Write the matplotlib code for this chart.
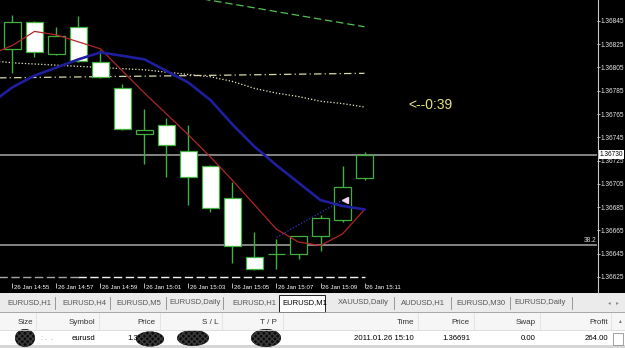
import matplotlib
matplotlib.use("Agg")
import matplotlib.pyplot as plt
import numpy as np
from matplotlib import transforms
from matplotlib.lines import Line2D
from matplotlib.patches import Rectangle, Ellipse

times = ["14:55", "14:56", "14:57", "14:58", "14:59", "15:00", "15:01", "15:02", "15:03",
         "15:04", "15:05", "15:06", "15:07", "15:08", "15:09", "15:10", "15:11"]
opens = [1.36821, 1.36844, 1.36817, 1.36840, 1.36810, 1.36787, 1.36748, 1.36756, 1.36733,
         1.36720, 1.36693, 1.36642, 1.36645, 1.36645, 1.36660, 1.36674, 1.36710]
highs = [1.36850, 1.36845, 1.36840, 1.36849, 1.36820, 1.36791, 1.36769, 1.36762, 1.36756,
         1.36721, 1.36707, 1.36664, 1.36658, 1.36660, 1.36678, 1.36720, 1.36732]
lows = [1.36800, 1.36814, 1.36816, 1.36810, 1.36796, 1.36751, 1.36722, 1.36711, 1.36687,
        1.36681, 1.36637, 1.36631, 1.36632, 1.36640, 1.36647, 1.36672, 1.36708]
closes = [1.36844, 1.36818, 1.36832, 1.36811, 1.36797, 1.36752, 1.36751, 1.36738, 1.36711,
          1.36684, 1.36652, 1.36632, 1.36645, 1.36660, 1.36676, 1.36702, 1.36730]

ma_times = ["14:54"] + times
ma_fast = [1.36816, 1.36824, 1.36836, 1.36833, 1.36827, 1.36821, 1.36802, 1.36783, 1.36765,
           1.36747, 1.36728, 1.36708, 1.36687, 1.36666, 1.36655, 1.36652, 1.36662, 1.36683]
ma_slow = [1.36774, 1.36788, 1.36798, 1.36805, 1.36812, 1.36818, 1.36815, 1.36812, 1.36802,
           1.36792, 1.36777, 1.36756, 1.36737, 1.36721, 1.36706, 1.36691, 1.36686, 1.36683]
ma_long = [1.36811, 1.36809, 1.36808, 1.36807, 1.36806, 1.36805, 1.36804, 1.36803, 1.36801,
           1.36799, 1.36797, 1.36793, 1.36787, 1.36783, 1.36780, 1.36776, 1.36774, 1.36771]

dashdot_times = ["14:54", "15:03", "15:11"]
dashdot_vals = [1.36796, 1.36798, 1.36800]
green_times = ["15:03", "15:11"]
green_vals = [1.36866, 1.36840]
low_gray_times = ["14:54", "14:58"]
low_white_times = ["14:58", "15:11"]
low_level = 1.36625

trade_times = ["15:07", "15:10"]
trade_prices = [1.36659, 1.36691]

bid = 1.36730
fibo_level = 1.366525
fibo_label = "38.2"
timer_text = "<--0:39"
timer_time = "15:13"
timer_price = 1.36773

price_ticks = [1.36625, 1.36645, 1.36665, 1.36685, 1.36705, 1.36725, 1.36745,
               1.36765, 1.36785, 1.36805, 1.36825, 1.36845]

tabs = ["EURUSD,H1", "EURUSD,H4", "EURUSD,M5", "EURUSD,Daily", "EURUSD,H1", "EURUSD,M1",
        "XAUUSD,Daily", "AUDUSD,H1", "EURUSD,M30", "EURUSD,Daily"]
active_tab = "EURUSD,M1"
headers = ["Size", "Symbol", "Price", "S / L", "T / P", "Time", "Price", "Swap", "Profit"]
row = {"Symbol": "eurusd", "Time": "2011.01.26 15:10", "Price": "1.36691",
       "Swap": "0.00", "Profit": "264.00"}

SANS = ["Liberation Sans", "DejaVu Sans"]
GREEN = "#41b041"


def bar_x(t):
    h, m = map(int, t.split(":"))
    return h * 60 + m - (14 * 60 + 55)


## 2. Figure and chart axes (pixel layout 625x348)
fig = plt.figure(figsize=(6.25, 3.48), dpi=100, facecolor="black")
ax = fig.add_axes([0, 65 / 348, 597 / 625, 283 / 348], facecolor="black")
ax.set_xlim(-0.568, 26.568)
ax.set_ylim(1.366198, 1.368630)

# horizontal lines (bid and fibo)
ax.axhline(bid, color="#8e8e8e", lw=1.3, zorder=1)
ax.axhline(fibo_level, color="#8e8e8e", lw=1.3, zorder=1)

# other indicator lines
xs = [bar_x(t) for t in ma_times]
ax.plot(xs, ma_long, color="#ecebc4", lw=0.9, ls=(0, (1, 1.6)), zorder=2)
ax.plot([bar_x(t) for t in dashdot_times], dashdot_vals, color="#d9d8a6", lw=0.9,
        ls=(0, (6, 2.5, 1, 2.5)), zorder=2)
ax.plot([bar_x(t) for t in green_times], green_vals, color="#55c055", lw=0.9,
        ls=(0, (6, 3)), zorder=2)
ax.plot([bar_x(t) for t in low_gray_times], [low_level] * 2, color="#a5a5a5", lw=1,
        ls=(0, (6, 2.5)), zorder=2)
ax.plot([bar_x(t) for t in low_white_times], [low_level] * 2, color="#f2f2f2", lw=1,
        ls=(0, (6, 2.5)), zorder=2)

# candles
bx = np.array([bar_x(t) for t in times])
o, h, l, c = map(np.array, (opens, highs, lows, closes))
ax.vlines(bx, l, h, color=GREEN, lw=1, zorder=3)
body_color = np.where(c >= o, "black", "white")
ax.bar(bx, np.abs(c - o), bottom=np.minimum(o, c), width=0.74, color=body_color,
       edgecolor=GREEN, linewidth=0.9, zorder=4)

# moving averages
ax.plot(xs, ma_fast, color="#b02626", lw=0.9, zorder=5)
ax.plot(xs, ma_slow, color="#1e1e9e", lw=1.9, zorder=5)

# trade line and arrow
ax.plot([bar_x(t) for t in trade_times], trade_prices, color="#3535c8", lw=0.9,
        ls=(0, (1, 1.5)), zorder=6)
ax.plot(bar_x(trade_times[-1]) + 0.1, trade_prices[-1], marker="<", ms=4,
        color="#f3d6f3", zorder=7)

ax.text(bar_x(timer_time), timer_price, timer_text, color="#e6e67a", fontsize=10,
        family=SANS, ha="left", va="center")

ax.annotate(fibo_label, xy=(1, fibo_level), xycoords=ax.get_yaxis_transform(),
            xytext=(-0.5, 0.6), textcoords="offset points", ha="right", va="bottom",
            fontsize=4.8, color="#d8d8d8", family=SANS)

# axes styling
for s in ["top", "left", "bottom", "right"]:
    ax.spines[s].set_visible(False)
ax.yaxis.tick_right()
ax.set_yticks(price_ticks)
ax.set_yticklabels([f"{v:.5f}" for v in price_ticks])
ax.tick_params(axis="y", direction="out", length=2.2, width=0.6, color="#d8d8d8",
               labelsize=4.7, labelcolor="#e8e8e8", pad=0.6)
for lab in ax.get_yticklabels():
    lab.set_family(SANS)

tick_times = times[::2]
ax.set_xticks([bar_x(t) for t in tick_times])
ax.set_xticklabels([])
ax.tick_params(axis="x", direction="out", length=3.6, width=0.6, color="#d8d8d8")
lab_tr = transforms.offset_copy(ax.get_xaxis_transform(), fig=fig, x=1.5, y=-2.0,
                                units="dots")
for t in tick_times:
    ax.text(bar_x(t), 0, f"26 Jan {t}", transform=lab_tr, ha="left", va="top",
            fontsize=4.4, color="white", family=SANS)

ax.annotate(f"{bid:.5f}", xy=(1, bid), xycoords=ax.get_yaxis_transform(),
            xytext=(1.8, 0), textcoords="offset points", ha="left", va="center",
            fontsize=4.7, color="black", family=SANS, zorder=10,
            bbox=dict(boxstyle="square,pad=0.12", fc="white", ec="none"))

fig.add_artist(Line2D([597.5 / 625] * 2, [55 / 348, 1], color="#c8c8c8", lw=0.8))

## 3. Terminal panel below the chart
ui = fig.add_axes([0, 0, 1, 55 / 348])
ui.set_xlim(0, 625)
ui.set_ylim(348, 293)
ui.axis("off")

ui.add_patch(Rectangle((0, 293), 625, 19, fc="#ebebeb", ec="none"))
ui.plot([0, 625], [311.5, 311.5], color="#9a9a9a", lw=0.6)
ui.add_patch(Rectangle((0, 312), 625, 18.5, fc="#f6f6f6", ec="none"))
ui.plot([0, 625], [330.3, 330.3], color="#dadada", lw=0.6)
ui.add_patch(Rectangle((0, 330.8), 625, 14.2, fc="white", ec="none"))
ui.add_patch(Rectangle((0, 345), 625, 3, fc="#d6d6d6", ec="none"))

tab_centers = [29, 84, 139, 195, 254, 305, 363, 423, 481, 540]
tab_seps = [55, 110, 166, 223, 394, 451, 510, 572]
for name, cx in zip(tabs, tab_centers):
    if name == active_tab and cx == 305:
        ui.add_patch(Rectangle((279, 295), 46, 17, fc="white", ec="#202020", lw=0.7))
        col = "black"
    else:
        col = "#555555"
    ui.text(cx, 303, name, ha="center", va="center", fontsize=5.5, color=col, family=SANS)
for sx in tab_seps:
    ui.plot([sx, sx], [297, 309], color="#8a8a8a", lw=0.6)
ui.text(609, 303, "\u25c2", ha="center", va="center", fontsize=4, color="#8a8a8a")
ui.text(617, 303, "\u25b8", ha="center", va="center", fontsize=4, color="#8a8a8a")

header_right = [33, 95, 155, 219, 277, 414, 470, 536, 608]
header_seps = [36, 99, 160, 222, 283, 418, 474, 540, 611]
for name, rx in zip(headers, header_right):
    ui.text(rx, 322, name, ha="right", va="center", fontsize=5.8, color="#333333",
            family=SANS)
for sx in header_seps:
    ui.plot([sx, sx], [313, 329.5], color="#e0e0e0", lw=0.6)

ui.text(95, 338, row["Symbol"], ha="right", va="center", fontsize=5.6, color="black",
        family=SANS)
for key, rx in [("Time", 414), ("Price", 470), ("Swap", 536), ("Profit", 608)]:
    ui.text(rx, 338, row[key], ha="right", va="center", fontsize=5.6, color="black",
            family=SANS)
ui.text(127, 338, "1.3", ha="left", va="center", fontsize=5.6, color="black", family=SANS)
ui.text(41, 339, ": .  .", ha="left", va="center", fontsize=5, color="#888888",
        family=SANS)

# scribbled-out values
for cx, cy, w, hh in [(25, 338, 20, 18), (150, 339, 28, 15), (193, 338, 32, 16),
                      (266, 338, 30, 18)]:
    ui.add_patch(Ellipse((cx, cy), w, hh, fc="#0a0a0a", ec="#3a3a3a", lw=0,
                         hatch="xxxxxx"))

ui.text(620, 321, "\u25b4", ha="center", va="center", fontsize=4, color="#707070")
ui.add_patch(Rectangle((613, 333), 10, 12, fc="white", ec="#909090", lw=0.6))

fig.savefig("out.png", dpi=100, facecolor=fig.get_facecolor())
